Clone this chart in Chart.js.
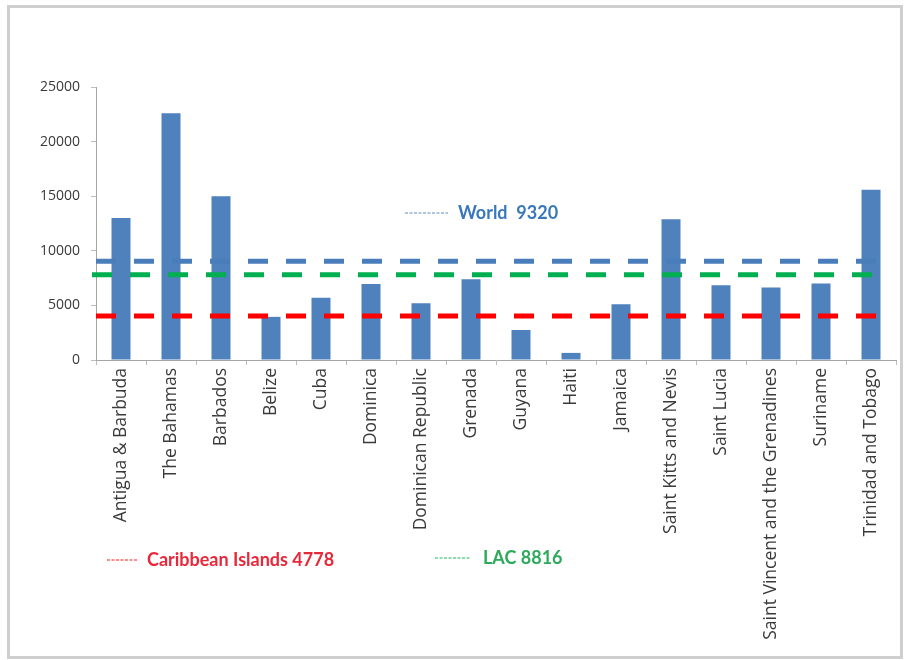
<!DOCTYPE html>
<html>
<head>
<meta charset="utf-8">
<script src="https://cdn.jsdelivr.net/npm/chart.js@4.4.0/dist/chart.umd.min.js"></script>
<style>
  body { margin: 0; background: #fff; }
</style>
</head>
<body>
<canvas id="myChart" width="904" height="660"></canvas>
<script>
// categorie e valori
const countries = ['Antigua & Barbuda', 'The Bahamas', 'Barbados', 'Belize', 'Cuba', 'Dominica',
  'Dominican Republic', 'Grenada', 'Guyana', 'Haiti', 'Jamaica', 'Saint Kitts and Nevis',
  'Saint Lucia', 'Saint Vincent and the Grenadines', 'Suriname', 'Trinidad and Tobago'];
const values = [13000, 22600, 15000, 3950, 5700, 6950, 5200, 7400, 2750, 650, 5100, 12900,
  6850, 6650, 7000, 15600];
const yTicks = [0, 5000, 10000, 15000, 20000, 25000];

// linee di riferimento (posizione come disegnata) e le loro etichette
const refNames = ['World', 'LAC', 'Caribbean Islands'];
const refValues = [9050, 7800, 4030];
const refLabels = ['World  9320', 'LAC 8816', 'Caribbean Islands 4778'];
const refColors = ['#4A7EBB', '#00B050', '#FF0000'];
const textColors = ['#3A78BE', '#2EAA5C', '#E8283A'];

// cornice, linee tratteggiate e etichette sparse come nell'originale
const decorPlugin = {
  id: 'decor',
  beforeDraw(chart) {
    const ctx = chart.ctx;
    ctx.save();
    ctx.fillStyle = '#fff';
    ctx.fillRect(0, 0, chart.width, chart.height);
    ctx.strokeStyle = '#cfcfcf';
    ctx.lineWidth = 3;
    ctx.strokeRect(8.5, 6.5, 893, 651);
    ctx.restore();
  },
  afterDatasetsDraw(chart) {
    const ctx = chart.ctx;
    const y = chart.scales.y;
    const area = chart.chartArea;
    ctx.save();
    ctx.lineWidth = 5;
    ctx.setLineDash([20, 18]);
    for (let i = 0; i < refValues.length; i++) {
      const py = y.getPixelForValue(refValues[i]);
      ctx.strokeStyle = refColors[i];
      ctx.beginPath();
      ctx.moveTo(area.left - (i == 1 ? 4 : 0), py);
      ctx.lineTo(area.right - 10, py);
      ctx.stroke();
    }
    ctx.restore();
  },
  afterDraw(chart) {
    const ctx = chart.ctx;
    // [inizio trattino, fine trattino, inizio testo, y]
    const pos = [[405, 448, 458, 213], [435, 470, 483, 558], [107, 138, 147, 560]];
    ctx.save();
    ctx.font = 'bold 18px Lato';
    ctx.textBaseline = 'middle';
    for (let i = 0; i < refLabels.length; i++) {
      const p = pos[i];
      ctx.strokeStyle = refColors[i];
      ctx.globalAlpha = 0.6;
      ctx.lineWidth = 1.5;
      ctx.setLineDash([3, 1.5]);
      ctx.beginPath();
      ctx.moveTo(p[0], p[3]);
      ctx.lineTo(p[1], p[3]);
      ctx.stroke();
      ctx.globalAlpha = 1;
      ctx.fillStyle = textColors[i];
      ctx.fillText(refLabels[i], p[2], p[3]);
    }
    ctx.restore();
  }
};

new Chart(document.getElementById('myChart'), {
  type: 'bar',
  data: {
    labels: countries,
    datasets: [{
      label: 'GDP per capita',
      data: values,
      backgroundColor: '#4F81BD',
      barPercentage: 0.38,
      categoryPercentage: 1
    }]
  },
  options: {
    responsive: false,
    animation: false,
    layout: { padding: { top: 87, right: 8, left: 0, bottom: 0 } },
    plugins: {
      legend: { display: false },
      tooltip: { enabled: false }
    },
    scales: {
      x: {
        grid: { drawOnChartArea: false, drawTicks: true, tickLength: 5, color: '#bdbdbd' },
        border: { color: '#a6a6a6' },
        ticks: {
          autoSkip: false,
          maxRotation: 90,
          minRotation: 90,
          padding: 3,
          color: '#3a3a3a',
          font: { family: "'Open Sans'", size: 17.5 }
        },
        afterFit: function (scale) { scale.height = 300; }
      },
      y: {
        min: 0,
        max: 25000,
        afterBuildTicks: function (scale) { scale.ticks = yTicks.map(v => ({ value: v })); },
        grid: { drawOnChartArea: false, drawTicks: true, tickLength: 5, color: '#bdbdbd' },
        border: { color: '#a6a6a6' },
        ticks: {
          padding: 11,
          color: '#3a3a3a',
          font: { family: "'Open Sans'", size: 14 },
          callback: function (v) { return String(v); }
        },
        afterFit: function (scale) { scale.width = 96; }
      }
    }
  },
  plugins: [decorPlugin]
});
</script>
</body>
</html>
